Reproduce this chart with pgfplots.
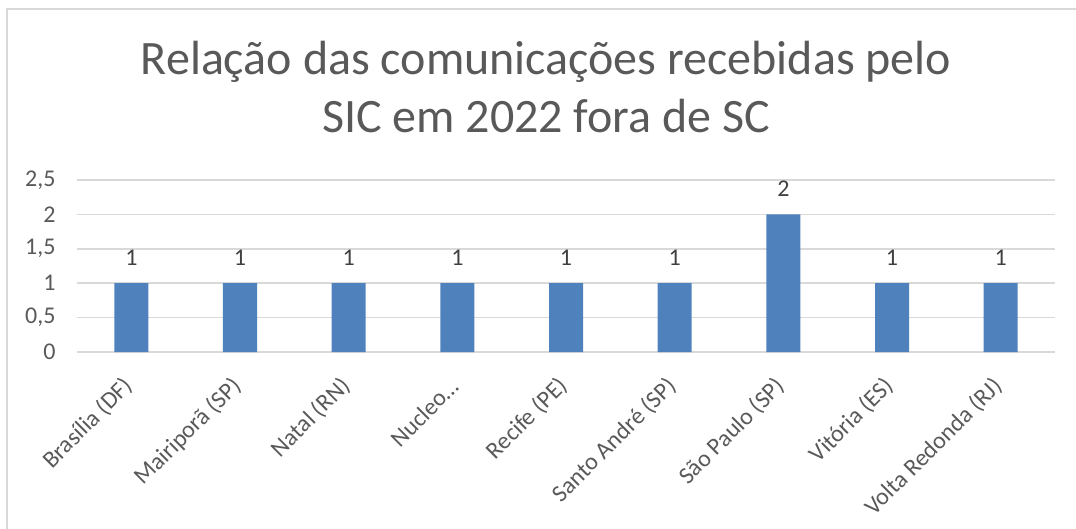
\documentclass[border=0pt]{standalone}
\usepackage{pgfplots}
\pgfplotsset{compat=1.18}
\usepackage{fontspec}
\setmainfont{Carlito}
\definecolor{barblue}{HTML}{4F81BD}
\definecolor{gridgray}{HTML}{D9D9D9}
\definecolor{txtgray}{HTML}{595959}
\definecolor{lblgray}{HTML}{404040}
\begin{document}
\begin{tikzpicture}
\useasboundingbox (-77pt,-176pt) rectangle (999pt,352pt);
\draw[gridgray, line width=1.5pt] (-70pt,343pt) rectangle (1030pt,-200pt);
\node[anchor=base, text=txtgray, font=\fontsize{48}{58}\selectfont] at (469pt,277pt) {Relação das comunicações recebidas pelo};
\node[anchor=base, text=txtgray, font=\fontsize{48}{58}\selectfont] at (469pt,219pt) {SIC em 2022 fora de SC};
\begin{axis}[at={(0pt,0pt)}, anchor=south west, scale only axis,
  width=978pt, height=172pt,
  xmin=-0.5, xmax=8.5, ymin=0, ymax=2.5,
  ybar, bar width=34pt,
  axis line style={draw=none},
  ymajorgrids, grid style={gridgray, line width=1.5pt},
  ytick={0,0.5,1,1.5,2,2.5},
  yticklabels={0,{0,5},1,{1,5},2,{2,5}},
  xtick={0,1,2,3,4,5,6,7,8},
  xticklabels={Brasília (DF),Mairiporã (SP),Natal (RN),Nucleo…,Recife (PE),Santo André (SP),São Paulo (SP),Vitória (ES),Volta Redonda (RJ)},
  major tick length=0pt,
  tick style={draw=none},
  /pgf/number format/assume math mode=true,
  yticklabel style={font=\fontsize{24}{28}\selectfont, text=txtgray, anchor=east, xshift=-18pt},
  xticklabel style={font=\fontsize{24}{28}\selectfont, text=txtgray, yshift=-28pt, rotate=45, anchor=east},
  nodes near coords,
  every node near coord/.append style={font=\fontsize{24}{28}\selectfont, text=lblgray, anchor=south, yshift=14pt},
  clip=false,
]
\addplot[fill=barblue, draw=none] coordinates {(0,1) (1,1) (2,1) (3,1) (4,1) (5,1) (6,2) (7,1) (8,1)};
\end{axis}
\end{tikzpicture}
\end{document}
